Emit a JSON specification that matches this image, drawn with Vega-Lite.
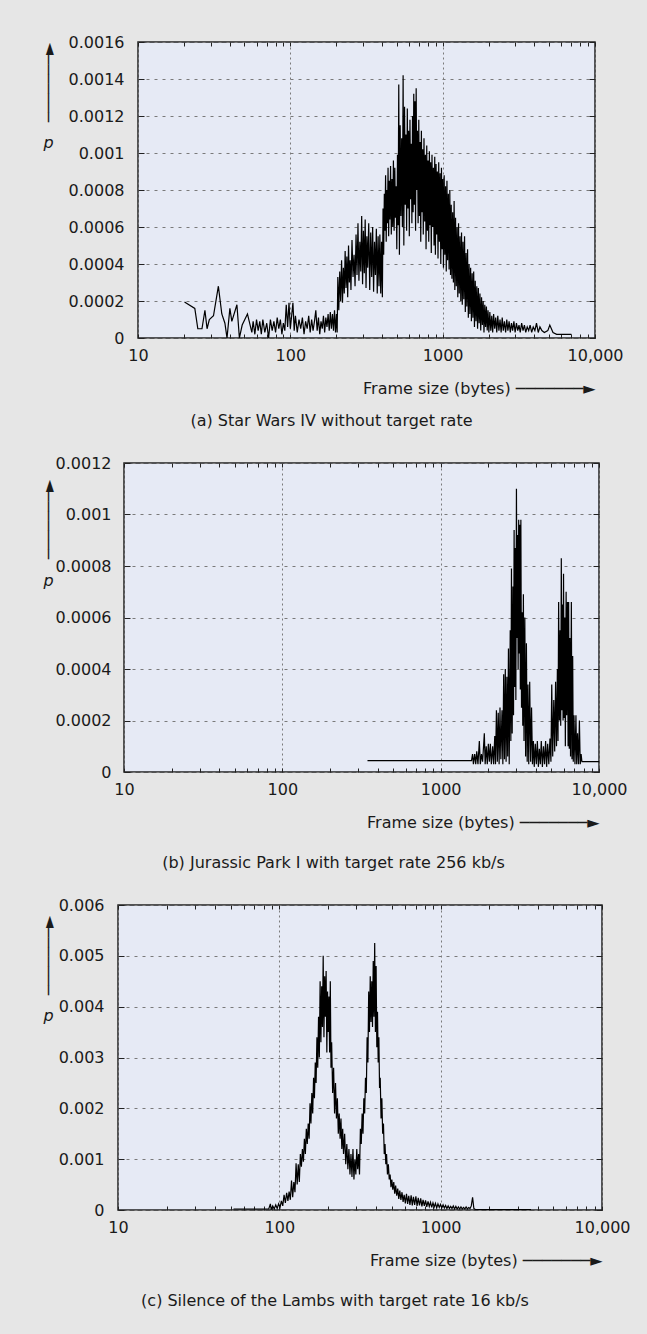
{
"$schema": "https://vega.github.io/schema/vega-lite/v6.json",
"background": "#E6E6E6",
"padding": {"left": 38, "top": 33, "right": 18, "bottom": 40},
"spacing": 24,
"config": {
  "font": "DejaVu Sans",
  "view": {"fill": "#E6EAF5", "stroke": "#222222", "strokeWidth": 1.5},
  "axis": {"domain": false, "labelFont": "DejaVu Sans", "labelFontSize": 16, "labelColor": "#1a1a1a", "titleFont": "DejaVu Sans", "titleFontSize": 16, "titleFontWeight": "normal", "titleColor": "#1a1a1a", "tickColor": "#222222", "tickWidth": 1, "gridColor": "#7a7a7a", "gridWidth": 1, "labelOverlap": false, "labelBound": false, "labelFlush": false},
  "axisX": {"gridDash": [2, 3]},
  "axisY": {"gridDash": [3, 5]},
  "title": {"font": "DejaVu Sans", "fontSize": 16, "fontWeight": "normal", "color": "#1a1a1a"},
  "line": {"color": "#000000", "strokeWidth": 1.2}
},
"datasets": {
"spacer": [{"t": ""}],
"a": [{"s":20.2,"p":0.000195},{"s":23.6,"p":0.00016},{"s":24.7,"p":0.00005},{"s":26.3,"p":0.00005},{"s":27.5,"p":0.00015},{"s":28.4,"p":0.00005},{"s":29.4,"p":0.0001},{"s":31.3,"p":0.00012},{"s":33.7,"p":0.00028},{"s":35.5,"p":0.00013},{"s":37.2,"p":0.00008},{"s":38.4,"p":0},{"s":40.1,"p":0.00016},{"s":41.3,"p":0.00009},{"s":44.6,"p":0.00018},{"s":46.3,"p":0},{"s":48.3,"p":0.00007},{"s":52.3,"p":0.00013},{"s":55.9,"p":0.00003},{"s":57,"p":0.00009},{"s":58.5,"p":0.00002},{"s":60,"p":0.0001},{"s":61.5,"p":0.00004},{"s":63,"p":0.00009},{"s":64.5,"p":0.00002},{"s":66,"p":0.0001},{"s":68,"p":0.00003},{"s":70,"p":0.00008},{"s":72,"p":0},{"s":74,"p":0.0001},{"s":76,"p":0.00004},{"s":78,"p":0.00009},{"s":80,"p":0.00003},{"s":82,"p":0.00011},{"s":84,"p":0.00005},{"s":86,"p":0.0001},{"s":88,"p":0.00002},{"s":90,"p":0.00008},{"s":92,"p":0.00004},{"s":94,"p":0.00018},{"s":96,"p":0.00006},{"s":98,"p":0.00019},{"s":100,"p":0.00005},{"s":102,"p":0.00012},{"s":104,"p":0.00019},{"s":106,"p":0.00004},{"s":108,"p":0.00012},{"s":111,"p":0.00003},{"s":114,"p":0.0001},{"s":117,"p":0.00005},{"s":120,"p":0.00011},{"s":123,"p":0.00002},{"s":126,"p":0.00009},{"s":129,"p":0.00005},{"s":132,"p":0.00012},{"s":135,"p":0.00003},{"s":138,"p":0.0001},{"s":141,"p":0.00004},{"s":144,"p":0.00009},{"s":147,"p":0.00015},{"s":150,"p":0.00004},{"s":153,"p":0.00011},{"s":156,"p":0.00002},{"s":159,"p":0.00009},{"s":162,"p":0.00005},{"s":165,"p":0.00012},{"s":168,"p":0.00003},{"s":171,"p":0.00011},{"s":174,"p":0.00006},{"s":177,"p":0.00013},{"s":180,"p":0.00004},{"s":183,"p":0.00014},{"s":186,"p":0.00005},{"s":189,"p":0.00013},{"s":192,"p":0.00004},{"s":195,"p":0.00015},{"s":198,"p":0.00003},{"s":201,"p":0.00013},{"s":203,"p":0.00003},
{"s":205,"p":0.00033},{"s":208,"p":0.00015},{"s":211,"p":0.00036},{"s":214,"p":0.0002},{"s":217,"p":0.00042},{"s":220,"p":0.00019},{"s":223,"p":0.00038},{"s":226,"p":0.00024},{"s":229,"p":0.00047},{"s":232,"p":0.00027},{"s":235,"p":0.00044},{"s":238,"p":0.00022},{"s":241,"p":0.0005},{"s":244,"p":0.0003},{"s":247,"p":0.00042},{"s":250,"p":0.00026},{"s":254,"p":0.00053},{"s":258,"p":0.00033},{"s":262,"p":0.00045},{"s":266,"p":0.00028},{"s":270,"p":0.00056},{"s":274,"p":0.00034},{"s":278,"p":0.00062},{"s":282,"p":0.00031},{"s":286,"p":0.00052},{"s":290,"p":0.00036},{"s":294,"p":0.00066},{"s":298,"p":0.00029},{"s":302,"p":0.00058},{"s":306,"p":0.00035},{"s":310,"p":0.00064},{"s":314,"p":0.00027},{"s":318,"p":0.00055},{"s":322,"p":0.00038},{"s":327,"p":0.00062},{"s":332,"p":0.00026},{"s":337,"p":0.00057},{"s":342,"p":0.00033},{"s":347,"p":0.0006},{"s":352,"p":0.00025},{"s":357,"p":0.00052},{"s":362,"p":0.00034},{"s":367,"p":0.00059},{"s":372,"p":0.00024},{"s":377,"p":0.00055},{"s":382,"p":0.00028},{"s":387,"p":0.00056},{"s":392,"p":0.00024},{"s":397,"p":0.00052},{"s":402,"p":0.00022},{"s":406,"p":0.0007},{"s":410,"p":0.00045},{"s":414,"p":0.00078},{"s":418,"p":0.00058},{"s":422,"p":0.00088},{"s":426,"p":0.00052},{"s":430,"p":0.0008},{"s":434,"p":0.00062},{"s":438,"p":0.00092},{"s":442,"p":0.00055},{"s":446,"p":0.00085},{"s":450,"p":0.00064},{"s":455,"p":0.00093},{"s":460,"p":0.00056},{"s":465,"p":0.00086},{"s":470,"p":0.0006},{"s":475,"p":0.00096},{"s":480,"p":0.00058},{"s":485,"p":0.00092},{"s":490,"p":0.00065},{"s":495,"p":0.00082},{"s":500,"p":0.00048},{"s":505,"p":0.00099},{"s":510,"p":0.00061},{"s":515,"p":0.00137},{"s":520,"p":0.00045},{"s":526,"p":0.00115},{"s":532,"p":0.00066},{"s":538,"p":0.00108},{"s":544,"p":0.0006},{"s":550,"p":0.00142},{"s":556,"p":0.0005},{"s":562,"p":0.00125},{"s":568,"p":0.00072},{"s":574,"p":0.0011},{"s":580,"p":0.00058},{"s":586,"p":0.00124},{"s":592,"p":0.0007},{"s":598,"p":0.00112},{"s":604,"p":0.00055},{"s":610,"p":0.00118},{"s":616,"p":0.00075},{"s":622,"p":0.00105},{"s":628,"p":0.00062},{"s":634,"p":0.0012},{"s":640,"p":0.00068},{"s":646,"p":0.00132},{"s":652,"p":0.00072},{"s":658,"p":0.00128},{"s":664,"p":0.00058},{"s":670,"p":0.00135},{"s":676,"p":0.0008},{"s":683,"p":0.00112},{"s":690,"p":0.00062},{"s":697,"p":0.00118},{"s":704,"p":0.00066},{"s":711,"p":0.00106},{"s":718,"p":0.00052},{"s":725,"p":0.00112},{"s":732,"p":0.00068},{"s":739,"p":0.00102},{"s":746,"p":0.00056},{"s":754,"p":0.00108},{"s":762,"p":0.00063},{"s":770,"p":0.00099},{"s":778,"p":0.00048},{"s":786,"p":0.00104},{"s":794,"p":0.00058},{"s":802,"p":0.00096},{"s":810,"p":0.00052},{"s":818,"p":0.00101},{"s":826,"p":0.00061},{"s":834,"p":0.00095},{"s":842,"p":0.00046},{"s":851,"p":0.00099},{"s":860,"p":0.0006},{"s":869,"p":0.00092},{"s":878,"p":0.0005},{"s":887,"p":0.00098},{"s":896,"p":0.00045},{"s":905,"p":0.00094},{"s":914,"p":0.00056},{"s":923,"p":0.0009},{"s":932,"p":0.00043},{"s":942,"p":0.00095},{"s":952,"p":0.00052},{"s":962,"p":0.00089},{"s":972,"p":0.0004},{"s":982,"p":0.00092},{"s":992,"p":0.00048},{"s":1002,"p":0.00086},{"s":1012,"p":0.00038},{"s":1023,"p":0.00088},{"s":1034,"p":0.00045},{"s":1045,"p":0.00082},{"s":1056,"p":0.00036},{"s":1067,"p":0.00085},{"s":1078,"p":0.00042},{"s":1090,"p":0.00078},{"s":1102,"p":0.00037},{"s":1114,"p":0.0008},{"s":1126,"p":0.00034},{"s":1138,"p":0.00072},{"s":1150,"p":0.00032},{"s":1163,"p":0.00068},{"s":1176,"p":0.0003},{"s":1189,"p":0.00074},{"s":1202,"p":0.00026},{"s":1215,"p":0.00065},{"s":1229,"p":0.00028},{"s":1243,"p":0.0006},{"s":1257,"p":0.00022},{"s":1271,"p":0.00062},{"s":1285,"p":0.00024},{"s":1300,"p":0.00055},{"s":1315,"p":0.0002},{"s":1330,"p":0.00057},{"s":1345,"p":0.00018},{"s":1360,"p":0.00052},{"s":1376,"p":0.00021},{"s":1392,"p":0.00055},{"s":1408,"p":0.00014},{"s":1424,"p":0.00046},{"s":1440,"p":0.00017},{"s":1457,"p":0.00048},{"s":1474,"p":0.00011},{"s":1491,"p":0.0004},{"s":1508,"p":0.00013},{"s":1526,"p":0.00038},{"s":1544,"p":0.00009},{"s":1562,"p":0.00035},{"s":1580,"p":0.00011},{"s":1598,"p":0.00036},{"s":1617,"p":0.00006},{"s":1636,"p":0.00031},{"s":1655,"p":0.00009},{"s":1675,"p":0.00028},{"s":1695,"p":0.00005},{"s":1715,"p":0.00027},{"s":1736,"p":0.00008},{"s":1757,"p":0.00024},{"s":1778,"p":0.00004},{"s":1800,"p":0.00022},{"s":1822,"p":0.00007},{"s":1844,"p":0.0002},{"s":1867,"p":0.00003},{"s":1890,"p":0.00018},{"s":1913,"p":0.00006},{"s":1937,"p":0.00017},{"s":1961,"p":0.00004},{"s":1985,"p":0.00015},{"s":2010,"p":0.00003},{"s":2040,"p":0.00014},{"s":2070,"p":0.00004},{"s":2100,"p":0.00012},{"s":2130,"p":0.00003},{"s":2160,"p":0.00013},{"s":2195,"p":0.00005},{"s":2230,"p":0.00011},{"s":2265,"p":0.00003},{"s":2300,"p":0.00012},{"s":2340,"p":0.00004},{"s":2380,"p":0.0001},{"s":2420,"p":0.00003},{"s":2460,"p":0.00011},{"s":2500,"p":0.00004},{"s":2545,"p":0.00009},{"s":2590,"p":0.00003},{"s":2635,"p":0.0001},{"s":2680,"p":0.00004},{"s":2730,"p":0.00009},{"s":2780,"p":0.00003},{"s":2830,"p":0.00008},{"s":2880,"p":0.00004},{"s":2935,"p":0.00009},{"s":2990,"p":0.00003},{"s":3050,"p":0.00008},{"s":3110,"p":0.00004},{"s":3170,"p":0.00007},{"s":3230,"p":0.00003},{"s":3300,"p":0.00008},{"s":3370,"p":0.00004},{"s":3440,"p":0.00007},{"s":3510,"p":0.00003},{"s":3590,"p":0.00006},{"s":3670,"p":0.00004},{"s":3750,"p":0.00007},{"s":3840,"p":0.00003},{"s":3930,"p":0.00006},{"s":4030,"p":0.00004},{"s":4130,"p":0.00008},{"s":4240,"p":0.00003},{"s":4350,"p":0.00006},{"s":4480,"p":0.00004},{"s":4650,"p":0.00003},{"s":4900,"p":0.00004},{"s":5050,"p":0.00007},{"s":5300,"p":0.00003},{"s":5600,"p":0.00002},{"s":6200,"p":0.00002},{"s":7000,"p":0.00002}],
"b": [{"s":345,"p":0.000044},{"s":1566,"p":0.000044},{"s":1590,"p":0.00007},{"s":1610,"p":0.00003},{"s":1640,"p":0.00007},{"s":1665,"p":0.00003},{"s":1690,"p":0.00008},{"s":1720,"p":0.00003},{"s":1755,"p":0.00012},{"s":1780,"p":0.00003},{"s":1810,"p":0.00007},{"s":1840,"p":0.00004},{"s":1887,"p":0.00015},{"s":1910,"p":0.00003},{"s":1940,"p":0.0001},{"s":1970,"p":0.00003},{"s":2000,"p":0.00011},{"s":2030,"p":0.00004},{"s":2060,"p":0.00011},{"s":2090,"p":0.00003},{"s":2130,"p":0.0001},{"s":2160,"p":0.00003},{"s":2196,"p":0.00014},{"s":2220,"p":0.00003},{"s":2250,"p":0.00024},{"s":2280,"p":0.00004},{"s":2310,"p":0.00023},{"s":2340,"p":0.00003},{"s":2370,"p":0.00025},{"s":2400,"p":0.00005},{"s":2440,"p":0.00024},{"s":2470,"p":0.00003},{"s":2500,"p":0.00038},{"s":2530,"p":0.00005},{"s":2560,"p":0.0004},{"s":2590,"p":0.00004},{"s":2620,"p":0.00037},{"s":2650,"p":0.00006},{"s":2680,"p":0.00048},{"s":2710,"p":0.00003},{"s":2750,"p":0.00055},{"s":2775,"p":0.00012},{"s":2800,"p":0.00079},{"s":2830,"p":0.00015},{"s":2860,"p":0.00072},{"s":2885,"p":0.00022},{"s":2910,"p":0.00094},{"s":2935,"p":0.00033},{"s":2960,"p":0.00087},{"s":2985,"p":0.00028},{"s":3010,"p":0.0011},{"s":3035,"p":0.00052},{"s":3060,"p":0.00092},{"s":3085,"p":0.0004},{"s":3110,"p":0.00098},{"s":3135,"p":0.00046},{"s":3160,"p":0.00096},{"s":3185,"p":0.00032},{"s":3210,"p":0.00098},{"s":3240,"p":0.00025},{"s":3270,"p":0.00062},{"s":3300,"p":0.00018},{"s":3330,"p":0.00069},{"s":3360,"p":0.00012},{"s":3400,"p":0.0006},{"s":3440,"p":0.00006},{"s":3480,"p":0.0005},{"s":3520,"p":0.00004},{"s":3560,"p":0.00034},{"s":3600,"p":0.00003},{"s":3650,"p":0.00035},{"s":3700,"p":0.00004},{"s":3750,"p":0.00025},{"s":3800,"p":0.00003},{"s":3850,"p":0.00012},{"s":3900,"p":0.00002},{"s":3960,"p":0.00011},{"s":4020,"p":0.00003},{"s":4080,"p":0.00012},{"s":4140,"p":0.00002},{"s":4200,"p":0.00009},{"s":4260,"p":0.00003},{"s":4320,"p":0.00012},{"s":4390,"p":0.00002},{"s":4460,"p":0.0001},{"s":4530,"p":0.00003},{"s":4600,"p":0.00012},{"s":4670,"p":0.00002},{"s":4740,"p":0.00011},{"s":4820,"p":0.00003},{"s":4900,"p":0.00013},{"s":4970,"p":0.00004},{"s":5030,"p":0.00034},{"s":5100,"p":0.00006},{"s":5180,"p":0.00028},{"s":5250,"p":0.00008},{"s":5320,"p":0.00035},{"s":5390,"p":0.0001},{"s":5460,"p":0.0004},{"s":5510,"p":0.00012},{"s":5560,"p":0.00066},{"s":5620,"p":0.0002},{"s":5680,"p":0.00055},{"s":5730,"p":0.00018},{"s":5780,"p":0.00083},{"s":5830,"p":0.00024},{"s":5880,"p":0.00065},{"s":5930,"p":0.0002},{"s":5970,"p":0.00077},{"s":6020,"p":0.00021},{"s":6080,"p":0.0006},{"s":6130,"p":0.0001},{"s":6200,"p":0.0007},{"s":6250,"p":0.00022},{"s":6320,"p":0.00066},{"s":6380,"p":0.0001},{"s":6430,"p":0.00066},{"s":6490,"p":0.00009},{"s":6550,"p":0.00052},{"s":6610,"p":0.00006},{"s":6690,"p":0.00066},{"s":6750,"p":0.00005},{"s":6820,"p":0.00045},{"s":6880,"p":0.00004},{"s":6950,"p":0.00022},{"s":7050,"p":0.00003},{"s":7150,"p":0.00022},{"s":7230,"p":0.00003},{"s":7320,"p":0.00015},{"s":7420,"p":0.00003},{"s":7520,"p":0.0002},{"s":7610,"p":0.00003},{"s":7710,"p":0.00007},{"s":7800,"p":0.00004},{"s":10000,"p":0.00004}],
"c": [{"s":52,"p":0.00002},{"s":60,"p":0.00002},{"s":70,"p":0.00002},{"s":80,"p":0.00002},{"s":86,"p":0.00002},{"s":88,"p":0.00012},{"s":89,"p":0.00001},{"s":91,"p":0.00008},{"s":93,"p":0.00002},{"s":95,"p":0.0001},{"s":97,"p":0.00003},{"s":99,"p":0.00012},{"s":101,"p":0.00005},{"s":103,"p":0.00018},{"s":105,"p":0.00008},{"s":107,"p":0.0003},{"s":109,"p":0.00014},{"s":111,"p":0.00034},{"s":113,"p":0.00018},{"s":115,"p":0.00036},{"s":117,"p":0.0002},{"s":119,"p":0.00058},{"s":121,"p":0.00025},{"s":123,"p":0.00055},{"s":125,"p":0.00035},{"s":127,"p":0.00092},{"s":129,"p":0.0005},{"s":131,"p":0.0009},{"s":133,"p":0.00055},{"s":135,"p":0.0011},{"s":137,"p":0.00085},{"s":139,"p":0.0012},{"s":141,"p":0.00095},{"s":143,"p":0.0014},{"s":145,"p":0.0011},{"s":147,"p":0.0016},{"s":149,"p":0.0013},{"s":151,"p":0.0017},{"s":153,"p":0.0014},{"s":155,"p":0.0021},{"s":157,"p":0.0017},{"s":159,"p":0.0023},{"s":161,"p":0.0019},{"s":163,"p":0.0026},{"s":165,"p":0.0022},{"s":167,"p":0.0029},{"s":169,"p":0.0025},{"s":171,"p":0.0034},{"s":173,"p":0.0028},{"s":175,"p":0.0038},{"s":177,"p":0.003},{"s":179,"p":0.0045},{"s":181,"p":0.0033},{"s":183,"p":0.0044},{"s":185,"p":0.0036},{"s":187,"p":0.005},{"s":189,"p":0.0034},{"s":191,"p":0.0046},{"s":193,"p":0.0038},{"s":195,"p":0.0047},{"s":197,"p":0.0031},{"s":199,"p":0.0043},{"s":201,"p":0.0035},{"s":203,"p":0.0042},{"s":205,"p":0.0031},{"s":207,"p":0.0045},{"s":209,"p":0.0028},{"s":211,"p":0.0033},{"s":214,"p":0.0023},{"s":217,"p":0.0028},{"s":220,"p":0.0019},{"s":223,"p":0.0025},{"s":226,"p":0.0018},{"s":229,"p":0.0022},{"s":232,"p":0.0015},{"s":235,"p":0.0019},{"s":238,"p":0.0014},{"s":241,"p":0.0018},{"s":244,"p":0.0012},{"s":247,"p":0.0016},{"s":250,"p":0.0011},{"s":254,"p":0.0015},{"s":258,"p":0.0009},{"s":262,"p":0.0013},{"s":266,"p":0.0008},{"s":270,"p":0.0012},{"s":274,"p":0.0007},{"s":278,"p":0.0011},{"s":282,"p":0.00065},{"s":286,"p":0.0012},{"s":290,"p":0.0006},{"s":294,"p":0.001},{"s":298,"p":0.0007},{"s":302,"p":0.0012},{"s":306,"p":0.0008},{"s":310,"p":0.0011},{"s":314,"p":0.0007},{"s":318,"p":0.0016},{"s":322,"p":0.0013},{"s":326,"p":0.0019},{"s":330,"p":0.0015},{"s":334,"p":0.0022},{"s":338,"p":0.0019},{"s":342,"p":0.0026},{"s":346,"p":0.0023},{"s":350,"p":0.0034},{"s":354,"p":0.0029},{"s":358,"p":0.0043},{"s":362,"p":0.0035},{"s":366,"p":0.0046},{"s":370,"p":0.0037},{"s":374,"p":0.0045},{"s":378,"p":0.0036},{"s":382,"p":0.0049},{"s":386,"p":0.0038},{"s":390,"p":0.00525},{"s":394,"p":0.0035},{"s":398,"p":0.0048},{"s":402,"p":0.0032},{"s":406,"p":0.0039},{"s":410,"p":0.0029},{"s":414,"p":0.0034},{"s":418,"p":0.0024},{"s":422,"p":0.0026},{"s":427,"p":0.0018},{"s":432,"p":0.0022},{"s":437,"p":0.0015},{"s":442,"p":0.0017},{"s":447,"p":0.0011},{"s":452,"p":0.0013},{"s":457,"p":0.0009},{"s":462,"p":0.0011},{"s":468,"p":0.0007},{"s":474,"p":0.0009},{"s":480,"p":0.0006},{"s":486,"p":0.0007},{"s":492,"p":0.00045},{"s":498,"p":0.0006},{"s":505,"p":0.0004},{"s":512,"p":0.00055},{"s":519,"p":0.00032},{"s":526,"p":0.00048},{"s":534,"p":0.00028},{"s":542,"p":0.00042},{"s":550,"p":0.00022},{"s":558,"p":0.00038},{"s":567,"p":0.0002},{"s":576,"p":0.00035},{"s":585,"p":0.00016},{"s":594,"p":0.0003},{"s":604,"p":0.00013},{"s":614,"p":0.00032},{"s":624,"p":0.00012},{"s":634,"p":0.00028},{"s":645,"p":0.0001},{"s":656,"p":0.00029},{"s":667,"p":0.00009},{"s":678,"p":0.00026},{"s":690,"p":0.0001},{"s":702,"p":0.00027},{"s":714,"p":0.00008},{"s":726,"p":0.00024},{"s":739,"p":0.00009},{"s":752,"p":0.00023},{"s":765,"p":0.00007},{"s":778,"p":0.0002},{"s":792,"p":0.00008},{"s":806,"p":0.00019},{"s":820,"p":0.00006},{"s":835,"p":0.00017},{"s":850,"p":0.00007},{"s":865,"p":0.00015},{"s":880,"p":0.00005},{"s":896,"p":0.00014},{"s":912,"p":0.00006},{"s":928,"p":0.00013},{"s":945,"p":0.00004},{"s":962,"p":0.00012},{"s":980,"p":0.00005},{"s":998,"p":0.00011},{"s":1016,"p":0.00004},{"s":1035,"p":0.0001},{"s":1054,"p":0.00004},{"s":1073,"p":0.00009},{"s":1093,"p":0.00003},{"s":1113,"p":0.00008},{"s":1133,"p":0.00003},{"s":1154,"p":0.00007},{"s":1175,"p":0.00003},{"s":1197,"p":0.00008},{"s":1219,"p":0.00002},{"s":1242,"p":0.00007},{"s":1265,"p":0.00002},{"s":1288,"p":0.00006},{"s":1312,"p":0.00002},{"s":1336,"p":0.00006},{"s":1361,"p":0.00002},{"s":1386,"p":0.00005},{"s":1412,"p":0.00002},{"s":1438,"p":0.00006},{"s":1465,"p":0.00002},{"s":1492,"p":0.00005},{"s":1520,"p":0.00003},{"s":1548,"p":0.00008},{"s":1577,"p":0.00025},{"s":1606,"p":0.00003},{"s":1640,"p":0.00001},{"s":2000,"p":0.00001},{"s":3000,"p":0.00001},{"s":3630,"p":0.00001}]
},
"vconcat": [
{"spacing": 0, "hconcat": [
 {"width": 1, "height": 10, "view": {"fill": null, "stroke": null}, "data": {"name": "spacer"}, "mark": {"type": "text"}, "encoding": {"text": {"field": "t"}}},
 {
  "width": 457, "height": 296,
  "title": {"text": "(a) Star Wars IV without target rate", "orient": "bottom", "anchor": "middle", "frame": "bounds", "offset": 17},
  "data": {"name": "a"},
  "resolve": {"axis": {"x": "independent", "y": "independent"}},
  "layer": [
    {"mark": {"type": "line", "clip": true},
     "encoding": {
       "x": {"field": "s", "type": "quantitative", "scale": {"type": "log", "domain": [10, 10000], "nice": false},
             "axis": {"orient": "bottom", "values": [10, 100, 1000, 10000], "labelExpr": "datum.value >= 10000 ? '10,000' : format(datum.value, 'd')", "grid": true, "ticks": false, "labelPadding": 9, "title": "Frame size (bytes)  ───────►", "titleAnchor": "end", "titleAlign": "right", "titlePadding": 17}},
       "y": {"field": "p", "type": "quantitative", "scale": {"domain": [0, 0.0016], "nice": false, "zero": true},
             "axis": {"orient": "left", "values": [0, 0.0002, 0.0004, 0.0006, 0.0008, 0.001, 0.0012, 0.0014, 0.0016], "format": ".4~f", "grid": true, "ticks": false, "labelPadding": 14, "title": "p", "titleFontStyle": "italic", "titleAngle": 0, "titleAlign": "center", "titleBaseline": "middle", "titleX": -90, "titleY": 100}}
     }},
    {"mark": {"type": "line", "opacity": 0},
     "encoding": {
       "x": {"field": "s", "type": "quantitative", "scale": {"type": "log", "domain": [10, 10000], "nice": false},
             "axis": {"orient": "top", "values": [10,20,30,40,50,60,70,80,90,100,200,300,400,500,600,700,800,900,1000,2000,3000,4000,5000,6000,7000,8000,9000,10000], "labels": false, "grid": false, "ticks": true, "tickSize": -4, "title": null}},
       "y": {"field": "p", "type": "quantitative", "scale": {"domain": [0, 0.0016], "nice": false, "zero": true},
             "axis": {"orient": "left", "values": [0, 0.0002, 0.0004, 0.0006, 0.0008, 0.001, 0.0012, 0.0014, 0.0016], "labels": false, "grid": false, "ticks": true, "tickSize": -6, "title": "───────►", "titleAngle": -90, "titleAlign": "center", "titleBaseline": "middle", "titleX": -90, "titleY": 40}}
     }},
    {"mark": {"type": "line", "opacity": 0},
     "encoding": {
       "x": {"field": "s", "type": "quantitative", "scale": {"type": "log", "domain": [10, 10000], "nice": false},
             "axis": {"orient": "bottom", "values": [10,20,30,40,50,60,70,80,90,100,200,300,400,500,600,700,800,900,1000,2000,3000,4000,5000,6000,7000,8000,9000,10000], "labels": false, "grid": false, "ticks": true, "tickSize": -4, "title": null}},
       "y": {"field": "p", "type": "quantitative", "scale": {"domain": [0, 0.0016], "nice": false, "zero": true},
             "axis": {"orient": "right", "values": [0, 0.0002, 0.0004, 0.0006, 0.0008, 0.001, 0.0012, 0.0014, 0.0016], "labels": false, "grid": false, "ticks": true, "tickSize": -6, "title": null}}
     }}
  ]
 }]},
{"spacing": 0, "hconcat": [
 {"width": 1, "height": 10, "view": {"fill": null, "stroke": null}, "data": {"name": "spacer"}, "mark": {"type": "text"}, "encoding": {"text": {"field": "t"}}},
 {
  "width": 475, "height": 309,
  "title": {"text": "(b) Jurassic Park I with target rate 256 kb/s", "orient": "bottom", "anchor": "middle", "frame": "bounds", "offset": 25},
  "data": {"name": "b"},
  "resolve": {"axis": {"x": "independent", "y": "independent"}},
  "layer": [
    {"mark": {"type": "line", "clip": true},
     "encoding": {
       "x": {"field": "s", "type": "quantitative", "scale": {"type": "log", "domain": [10, 10000], "nice": false},
             "axis": {"orient": "bottom", "values": [10, 100, 1000, 10000], "labelExpr": "datum.value >= 10000 ? '10,000' : format(datum.value, 'd')", "grid": true, "ticks": false, "labelPadding": 9, "title": "Frame size (bytes)  ───────►", "titleAnchor": "end", "titleAlign": "right", "titlePadding": 17}},
       "y": {"field": "p", "type": "quantitative", "scale": {"domain": [0, 0.0012], "nice": false, "zero": true},
             "axis": {"orient": "left", "values": [0, 0.0002, 0.0004, 0.0006, 0.0008, 0.001, 0.0012], "format": ".4~f", "grid": true, "ticks": false, "labelPadding": 13, "title": "p", "titleFontStyle": "italic", "titleAngle": 0, "titleAlign": "center", "titleBaseline": "middle", "titleX": -76, "titleY": 117}}
     }},
    {"mark": {"type": "line", "opacity": 0},
     "encoding": {
       "x": {"field": "s", "type": "quantitative", "scale": {"type": "log", "domain": [10, 10000], "nice": false},
             "axis": {"orient": "top", "values": [10,20,30,40,50,60,70,80,90,100,200,300,400,500,600,700,800,900,1000,2000,3000,4000,5000,6000,7000,8000,9000,10000], "labels": false, "grid": false, "ticks": true, "tickSize": -4, "title": null}},
       "y": {"field": "p", "type": "quantitative", "scale": {"domain": [0, 0.0012], "nice": false, "zero": true},
             "axis": {"orient": "left", "values": [0, 0.0002, 0.0004, 0.0006, 0.0008, 0.001, 0.0012], "labels": false, "grid": false, "ticks": true, "tickSize": -6, "title": "───────►", "titleAngle": -90, "titleAlign": "center", "titleBaseline": "middle", "titleX": -76, "titleY": 56}}
     }},
    {"mark": {"type": "line", "opacity": 0},
     "encoding": {
       "x": {"field": "s", "type": "quantitative", "scale": {"type": "log", "domain": [10, 10000], "nice": false},
             "axis": {"orient": "bottom", "values": [10,20,30,40,50,60,70,80,90,100,200,300,400,500,600,700,800,900,1000,2000,3000,4000,5000,6000,7000,8000,9000,10000], "labels": false, "grid": false, "ticks": true, "tickSize": -4, "title": null}},
       "y": {"field": "p", "type": "quantitative", "scale": {"domain": [0, 0.0012], "nice": false, "zero": true},
             "axis": {"orient": "right", "values": [0, 0.0002, 0.0004, 0.0006, 0.0008, 0.001, 0.0012], "labels": false, "grid": false, "ticks": true, "tickSize": -6, "title": null}}
     }}
  ]
 }]},
{"spacing": 0, "hconcat": [
 {"width": 1, "height": 10, "view": {"fill": null, "stroke": null}, "data": {"name": "spacer"}, "mark": {"type": "text"}, "encoding": {"text": {"field": "t"}}},
 {
  "width": 484, "height": 305,
  "title": {"text": "(c) Silence of the Lambs with target rate 16 kb/s", "orient": "bottom", "anchor": "middle", "frame": "bounds", "offset": 25},
  "data": {"name": "c"},
  "resolve": {"axis": {"x": "independent", "y": "independent"}},
  "layer": [
    {"mark": {"type": "line", "clip": true},
     "encoding": {
       "x": {"field": "s", "type": "quantitative", "scale": {"type": "log", "domain": [10, 10000], "nice": false},
             "axis": {"orient": "bottom", "values": [10, 100, 1000, 10000], "labelExpr": "datum.value >= 10000 ? '10,000' : format(datum.value, 'd')", "grid": true, "ticks": false, "labelPadding": 9, "title": "Frame size (bytes)  ───────►", "titleAnchor": "end", "titleAlign": "right", "titlePadding": 17}},
       "y": {"field": "p", "type": "quantitative", "scale": {"domain": [0, 0.006], "nice": false, "zero": true},
             "axis": {"orient": "left", "values": [0, 0.001, 0.002, 0.003, 0.004, 0.005, 0.006], "format": ".4~f", "grid": true, "ticks": false, "labelPadding": 14, "title": "p", "titleFontStyle": "italic", "titleAngle": 0, "titleAlign": "center", "titleBaseline": "middle", "titleX": -70, "titleY": 110}}
     }},
    {"mark": {"type": "line", "opacity": 0},
     "encoding": {
       "x": {"field": "s", "type": "quantitative", "scale": {"type": "log", "domain": [10, 10000], "nice": false},
             "axis": {"orient": "top", "values": [10,20,30,40,50,60,70,80,90,100,200,300,400,500,600,700,800,900,1000,2000,3000,4000,5000,6000,7000,8000,9000,10000], "labels": false, "grid": false, "ticks": true, "tickSize": -4, "title": null}},
       "y": {"field": "p", "type": "quantitative", "scale": {"domain": [0, 0.006], "nice": false, "zero": true},
             "axis": {"orient": "left", "values": [0, 0.001, 0.002, 0.003, 0.004, 0.005, 0.006], "labels": false, "grid": false, "ticks": true, "tickSize": -6, "title": "───────►", "titleAngle": -90, "titleAlign": "center", "titleBaseline": "middle", "titleX": -70, "titleY": 50}}
     }},
    {"mark": {"type": "line", "opacity": 0},
     "encoding": {
       "x": {"field": "s", "type": "quantitative", "scale": {"type": "log", "domain": [10, 10000], "nice": false},
             "axis": {"orient": "bottom", "values": [10,20,30,40,50,60,70,80,90,100,200,300,400,500,600,700,800,900,1000,2000,3000,4000,5000,6000,7000,8000,9000,10000], "labels": false, "grid": false, "ticks": true, "tickSize": -4, "title": null}},
       "y": {"field": "p", "type": "quantitative", "scale": {"domain": [0, 0.006], "nice": false, "zero": true},
             "axis": {"orient": "right", "values": [0, 0.001, 0.002, 0.003, 0.004, 0.005, 0.006], "labels": false, "grid": false, "ticks": true, "tickSize": -6, "title": null}}
     }}
  ]
 }]}
]
}
